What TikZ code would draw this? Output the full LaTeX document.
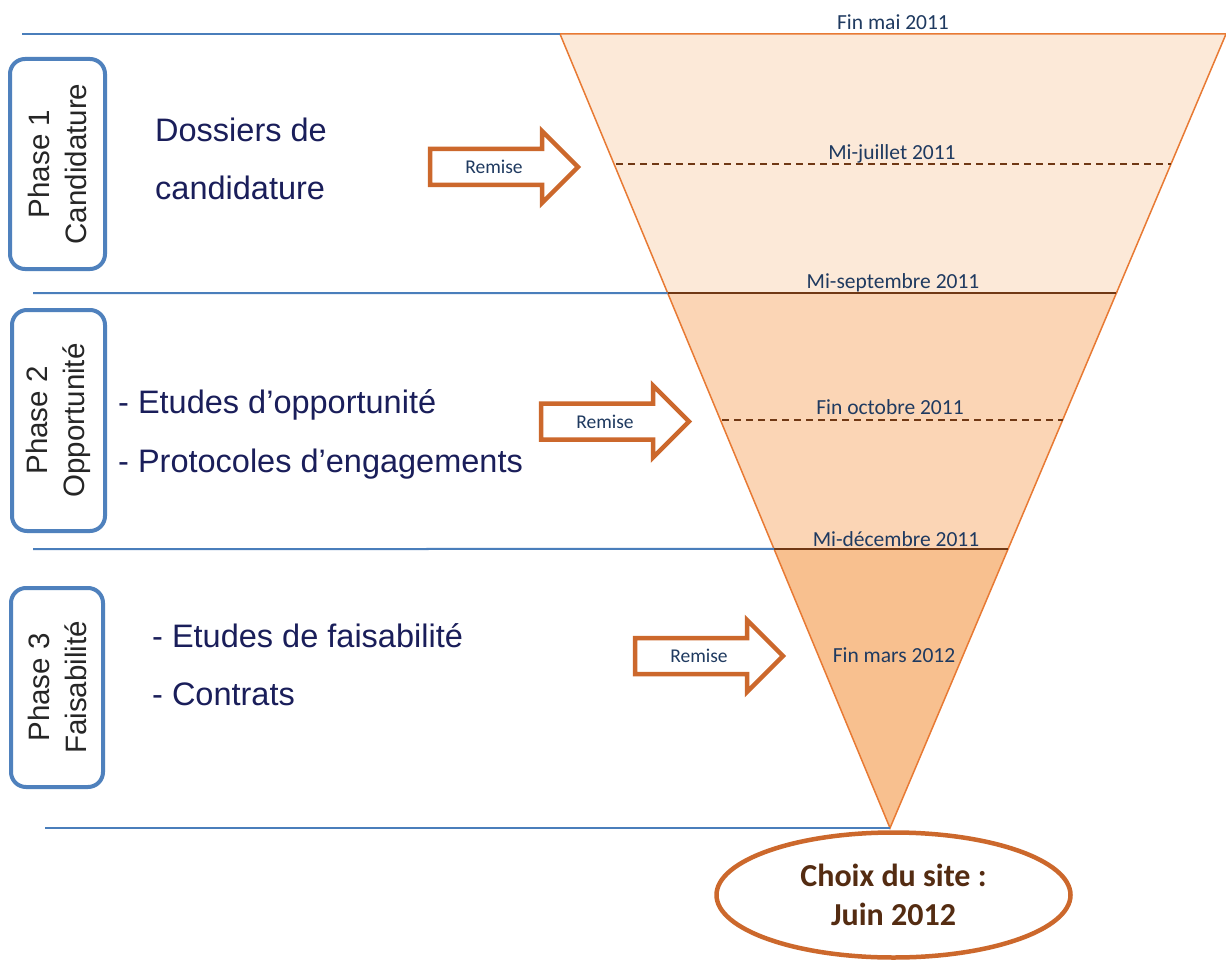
\documentclass[tikz,border=0pt]{standalone}
\usepackage{fontspec}
\newfontfamily\arialfont{Liberation Sans}
\newfontfamily\calibrifont{Carlito}
\usepackage{tikz}
\usetikzlibrary{calc}
\usetikzlibrary{positioning}
\usetikzlibrary{shapes.geometric}

\definecolor{lineblue}{RGB}{74,126,187}
\definecolor{boxblue}{RGB}{79,129,189}
\definecolor{textnavy}{RGB}{26,30,90}
\definecolor{datenavy}{RGB}{31,58,96}
\definecolor{funnelorange}{RGB}{232,122,52}
\definecolor{arroworange}{RGB}{204,104,44}
\definecolor{sepbrown}{RGB}{112,56,20}
\definecolor{choixbrown}{RGB}{84,44,18}
\definecolor{fillA}{RGB}{252,233,216}
\definecolor{fillB}{RGB}{251,213,181}
\definecolor{fillC}{RGB}{248,192,143}

\newcommand{\remise}[3]{%
  \draw[remise arrow] (#1,#2) ++(0,-18) -- ++(112,0) -- ++(0,-18) -- ++(36,36)
    -- ++(-36,36) -- ++(0,-18) -- ++(-112,0) -- cycle;
  \node[remise label] (#3) at (#1+64,#2) {Remise};
}

\begin{document}
\begin{tikzpicture}[x=1pt, y=-1pt,
    sep line/.style={draw=lineblue, line width=2pt},
    phasebox/.style={draw=boxblue, line width=4pt, rounded corners=15pt, rotate=90,
      align=center, inner sep=0pt, text=black!85,
      font=\arialfont\fontsize{29.5}{37}\selectfont},
    bodytext/.style={anchor=base west, inner sep=0pt, text=textnavy,
      font=\arialfont\fontsize{32.5}{38}\selectfont},
    datelabel/.style={anchor=base, inner sep=0pt, text=datenavy,
      font=\calibrifont\fontsize{21.5}{26}\selectfont},
    remise arrow/.style={draw=arroworange, line width=4.5pt, fill=white},
    remise label/.style={inner sep=0pt, text=datenavy,
      font=\calibrifont\fontsize{19.5}{23}\selectfont},
    choix/.style={ellipse, draw=arroworange, line width=4.5pt, fill=white,
      minimum width=354pt, minimum height=125pt, inner sep=0pt, align=center,
      text=choixbrown, font=\calibrifont\bfseries\fontsize{32}{39}\selectfont}]

  \fill[white] (0,0) rectangle (1226,960);
  \useasboundingbox (0,0) rectangle (1226,960);

  % funnel
  \coordinate (apex) at (890,828);
  \coordinate (topL) at (560,34);
  \coordinate (topR) at (1226,34);
  \coordinate (juilL) at ($(apex)!0.8363!(topL)$);
  \coordinate (juilR) at ($(apex)!0.8363!(topR)$);
  \coordinate (septL) at ($(apex)!0.6738!(topL)$);
  \coordinate (septR) at ($(apex)!0.6738!(topR)$);
  \coordinate (octL) at ($(apex)!0.5139!(topL)$);
  \coordinate (octR) at ($(apex)!0.5139!(topR)$);
  \coordinate (decL) at ($(apex)!0.3514!(topL)$);
  \coordinate (decR) at ($(apex)!0.3514!(topR)$);

  \filldraw[fill=fillA, draw=funnelorange, line width=1.5pt] (topL) -- (topR) -- (septR) -- (septL) -- cycle;
  \filldraw[fill=fillB, draw=funnelorange, line width=1.5pt] (septL) -- (septR) -- (decR) -- (decL) -- cycle;
  \filldraw[fill=fillC, draw=funnelorange, line width=1.5pt] (decL) -- (decR) -- (apex) -- cycle;

  \draw[sepbrown, line width=1.3pt, dash pattern=on 7pt off 5pt] ([xshift=2pt]juilL) -- (juilR);
  \draw[sepbrown, line width=1.3pt, dash pattern=on 7pt off 5pt] ([xshift=2pt]octL) -- (octR);
  \draw[sepbrown, line width=2.5pt] (septL) -- (septR);
  \draw[sepbrown, line width=2.5pt] (decL) -- (decR);

  % phase rules
  \draw[sep line] (22,34) -- (topL);
  \draw[sep line] (33,293) -- (septL);
  \draw[sep line] (33,549) -- (decL);
  \draw[sep line] (45,828) -- (apex);

  % dates
  \node[datelabel] (finmai) at (893,30) {Fin mai 2011};
  \node[datelabel] (mijuillet) at (892,160) {Mi-juillet 2011};
  \node[datelabel] (miseptembre) at (893,288) {Mi-septembre 2011};
  \node[datelabel] (finoctobre) at (890,414) {Fin octobre 2011};
  \node[datelabel] (midecembre) at (896,546) {Mi-décembre 2011};
  \node[datelabel] (finmars) at (894,662) {Fin mars 2012};

  % phases
  \node[phasebox, minimum width=210pt, minimum height=95pt] (phase1) at (57.5,164) {Phase 1\\Candidature};
  \node[phasebox, minimum width=221pt, minimum height=93pt] (phase2) at (58.5,420.5) {Phase 2\\Opportunité};
  \node[phasebox, minimum width=199pt, minimum height=92pt] (phase3) at (57,687.5) {Phase 3\\Faisabilité};

  \node[bodytext] (dossiers) at (155,142) {Dossiers de};
  \node[bodytext] (candid) at (155,200) {candidature};
  \node[bodytext] (etudesopp) at (118,413) {- Etudes d’opportunité};
  \node[bodytext] (protocoles) at (118,472) {- Protocoles d’engagements};
  \node[bodytext] (etudesfais) at (152,647) {- Etudes de faisabilité};
  \node[bodytext] (contrats) at (152,705) {- Contrats};

  % remises
  \remise{430}{167}{remise1}
  \remise{541}{421.5}{remise2}
  \remise{635}{656}{remise3}

  \node[choix] (site) at (893.5,895) {Choix du site :\\Juin 2012};

\end{tikzpicture}
\end{document}
